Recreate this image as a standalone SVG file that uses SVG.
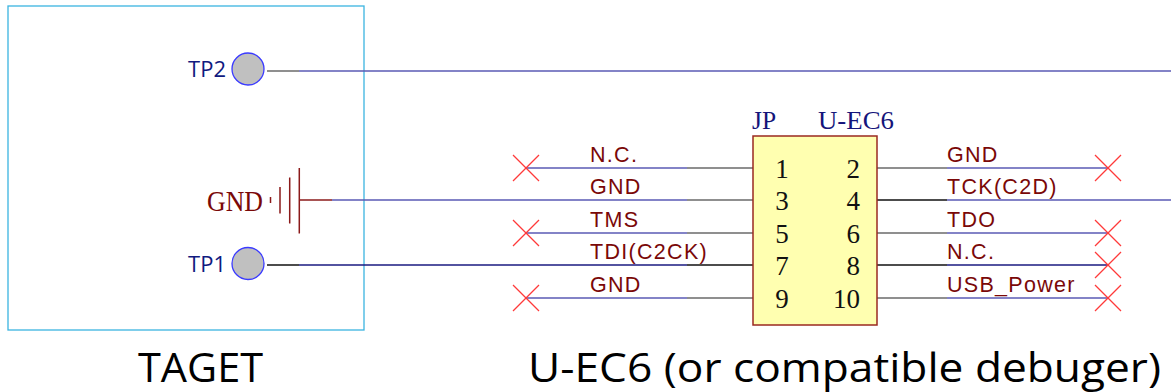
<svg xmlns="http://www.w3.org/2000/svg" width="1171" height="392" viewBox="0 0 1171 392">
<style>
.lbl{font-family:"Liberation Sans",Arial,sans-serif;font-size:21.5px;fill:#7a0808;letter-spacing:1.3px}
.pin{font-family:"Liberation Serif","Times New Roman",serif;font-size:27px;fill:#111}
.tp{font-family:"Open Sans","Noto Sans",sans-serif;font-size:22px;fill:#101a80}
.ser{font-family:"Liberation Serif","Times New Roman",serif;fill:#14147a}
.cap{font-family:"Open Sans","Noto Sans",sans-serif;font-size:40px;fill:#000}
.g{stroke:#6a6a6a;stroke-width:1.5;fill:none}
.k{stroke:#111;stroke-width:1.5;fill:none}
.b{stroke:#5a5ab4;stroke-width:1.6;fill:none}
.n{stroke:#1a1a80;stroke-width:1.5;fill:none}
.r{stroke:#8b1a1a;stroke-width:1.5;fill:none}
.x{stroke:#ff3a3a;stroke-width:1.3;fill:none}
</style>
<defs>
<g id="xm"><line class="x" x1="-13" y1="-13" x2="13" y2="13"/><line class="x" x1="-13" y1="13" x2="13" y2="-13"/></g>
</defs>
<rect id="target" x="8" y="6" width="356" height="324" fill="none" stroke="#3bb4e0" stroke-width="1.3"/>
<g id="connectors">
<path class="g" d="M267 71H299"/><path class="b" d="M299 71H1171"/>
<path class="r" d="M299 200H332"/><path class="b" d="M332 200H687"/><path class="g" d="M687 200H753"/>
<path class="k" d="M267 265H299"/><path class="n" d="M299 265H687"/><path class="k" d="M687 265H753"/>
<path class="b" d="M526 168H687"/><path class="g" d="M687 168H753"/>
<path class="b" d="M526 233H687"/><path class="g" d="M687 233H753"/>
<path class="b" d="M526 298H687"/><path class="g" d="M687 298H753"/>
<path class="g" d="M877 168H947"/><path class="b" d="M947 168H1108"/>
<path class="k" d="M877 200H947"/><path class="b" d="M947 200H1171"/>
<path class="g" d="M877 233H947"/><path class="b" d="M947 233H1108"/>
<path class="k" d="M877 265H947"/><path class="n" d="M947 265H1108"/>
<path class="g" d="M877 298H947"/><path class="b" d="M947 298H1108"/>
<use href="#xm" x="526" y="168"/><use href="#xm" x="526" y="233"/><use href="#xm" x="526" y="298"/>
<use href="#xm" x="1108" y="168"/><use href="#xm" x="1108" y="233"/><use href="#xm" x="1108" y="265"/><use href="#xm" x="1108" y="298"/>
</g>
<g id="tp2">
<circle cx="248" cy="69" r="16" fill="#c0c0c0" stroke="#3a3aff" stroke-width="1.3"/>
<text class="tp" x="226" y="77" text-anchor="end">TP2</text>
</g>
<g id="tp1">
<circle cx="248" cy="263.5" r="16" fill="#c0c0c0" stroke="#3a3aff" stroke-width="1.3"/>
<text class="tp" x="226" y="272" text-anchor="end">TP1</text>
</g>
<g id="gnd">
<path class="r" d="M270.5 197V203M280 187V213.5M289.7 177.5V223.5M299.3 168V233.5"/>
<text x="207" y="211" font-family="Liberation Serif,'Times New Roman',serif" font-size="29" fill="#7a0808" textLength="56" lengthAdjust="spacingAndGlyphs">GND</text>
</g>
<g id="jp">
<text class="ser" x="752" y="129" font-size="26" textLength="24" lengthAdjust="spacingAndGlyphs">JP</text>
<text class="ser" x="818" y="129" font-size="26" textLength="76" lengthAdjust="spacingAndGlyphs">U-EC6</text>
<rect x="753" y="136" width="124" height="189" fill="#ffffb0" stroke="#9a2a20" stroke-width="1.5"/>
<text class="pin" x="782" y="178" text-anchor="middle">1</text>
<text class="pin" x="782" y="210" text-anchor="middle">3</text>
<text class="pin" x="782" y="243" text-anchor="middle">5</text>
<text class="pin" x="782" y="275" text-anchor="middle">7</text>
<text class="pin" x="782" y="308" text-anchor="middle">9</text>
<text class="pin" x="860" y="178" text-anchor="end">2</text>
<text class="pin" x="860" y="210" text-anchor="end">4</text>
<text class="pin" x="860" y="243" text-anchor="end">6</text>
<text class="pin" x="860" y="275" text-anchor="end">8</text>
<text class="pin" x="860" y="308" text-anchor="end">10</text>
</g>
<g id="labels">
<text class="lbl" x="590" y="162">N.C.</text>
<text class="lbl" x="590" y="194">GND</text>
<text class="lbl" x="590" y="227">TMS</text>
<text class="lbl" x="590" y="259">TDI(C2CK)</text>
<text class="lbl" x="590" y="292">GND</text>
<text class="lbl" x="947" y="162">GND</text>
<text class="lbl" x="947" y="194">TCK(C2D)</text>
<text class="lbl" x="947" y="227">TDO</text>
<text class="lbl" x="947" y="259">N.C.</text>
<text class="lbl" x="947" y="292">USB_Power</text>
</g>
<text class="cap" x="138" y="382" textLength="125" lengthAdjust="spacingAndGlyphs">TAGET</text>
<text class="cap" x="528" y="382" textLength="633" lengthAdjust="spacingAndGlyphs">U-EC6 (or compatible debuger)</text>
</svg>
